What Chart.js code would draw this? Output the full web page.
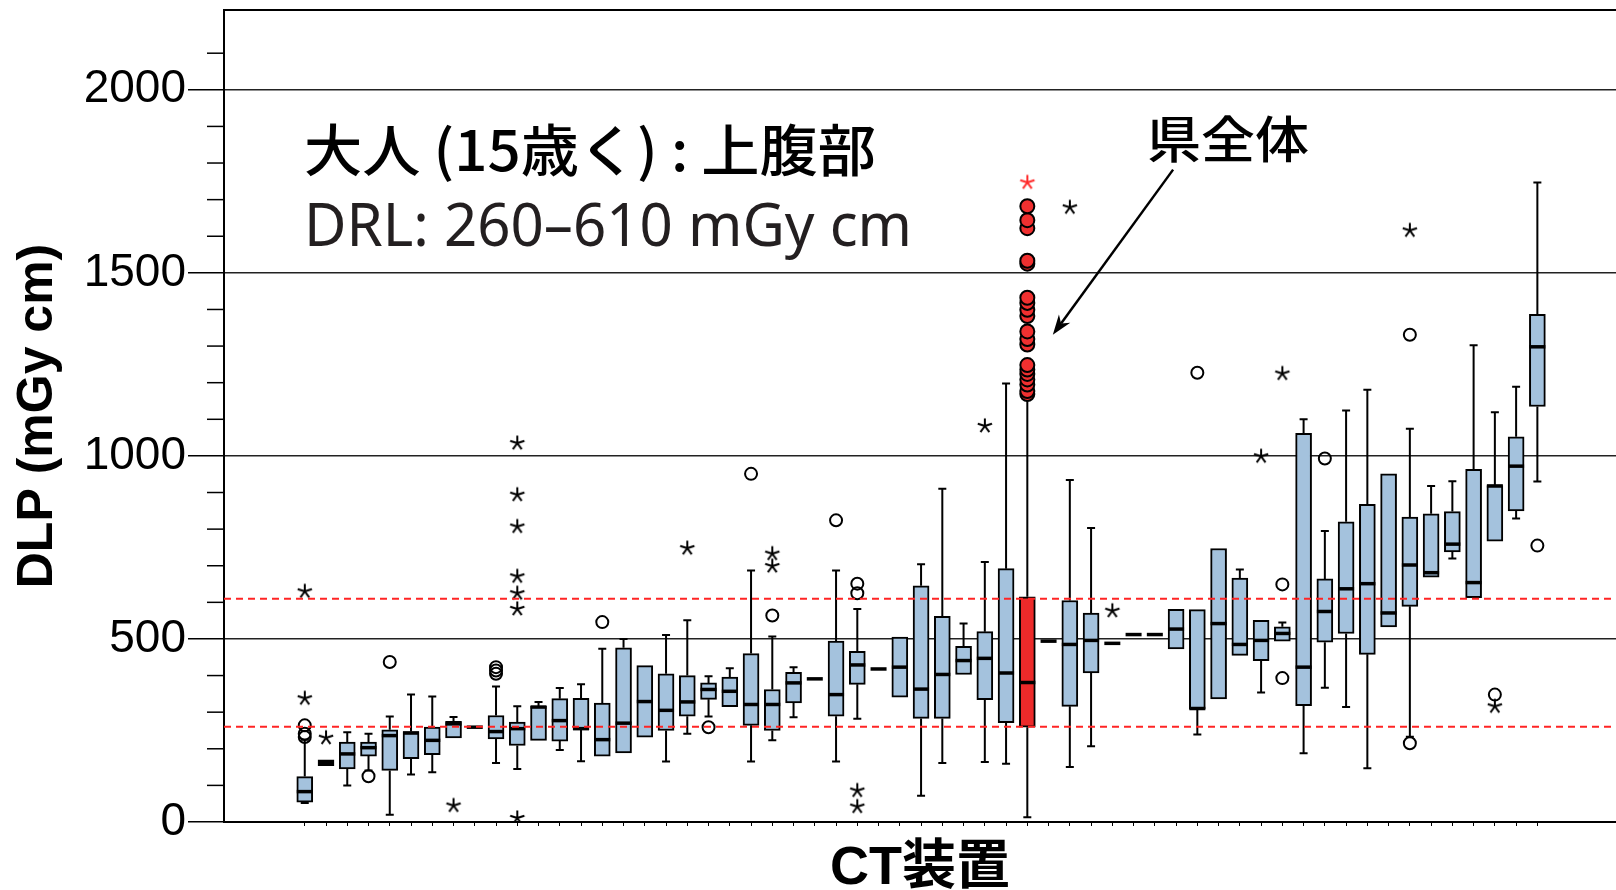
<!DOCTYPE html>
<html>
<head>
<meta charset="utf-8">
<script src="https://cdn.jsdelivr.net/npm/chart.js@4.4.0/dist/chart.umd.min.js"></script>
<style>
  html, body { margin: 0; padding: 0; background: #fff; overflow: hidden; }
  #wrap { width: 1616px; height: 890px; }
  canvas { display: block; }
</style>
</head>
<body>
<div id="wrap"><canvas id="chart" width="1616" height="890"></canvas></div>
<script>
// one box per CT unit, ordered as in the figure
const whiskerLow  = [52,154,100,141,20,130,136,230,259,161, 145,223,197,166,180,189,232,165,241,288,
                     315,165,223,286,391,165,282,418,341,72, 161,403,164,159,13,494,150,207,488,512,
                     512,473,239,336,455,354,494,188,367,314, 147,533,233,669,720,613,767,829,930]
const q1          = [54,154,145,180,141,173,184,230,259,227, 209,223,221,252,180,189,232,250,289,335,
                     315,264,250,325,391,289,376,418,341,283, 283,403,334,271,259,494,316,407,488,512,
                     512,473,308,336,455,441,494,318,491,515, 458,533,589,669,738,613,767,850,1135]
const median      = [83,162,186,203,236,243,223,268,259,247, 255,314,277,255,225,270,329,305,328,362,
                     357,321,321,380,391,348,429,418,423,363, 403,441,447,407,381,494,485,496,488,512,
                     512,527,310,542,485,496,515,423,575,637, 651,571,702,681,759,654,918,972,1298]
const q3          = [124,170,218,218,252,247,259,275,259,291, 273,316,337,338,325,476,427,405,400,380,
                     396,460,362,409,391,494,466,418,505,645, 562,480,520,692,615,494,605,571,488,512,
                     512,581,580,747,666,551,533,1062,664,820, 868,951,833,842,848,963,919,1052,1387]
const whiskerHigh = [225,170,245,241,288,348,343,287,259,370, 316,328,366,376,473,500,427,511,551,398,
                     420,687,507,423,391,687,582,418,505,704, 910,542,710,1198,1163,494,934,803,488,512,
                     512,581,580,747,690,551,545,1100,795,1124, 1181,951,1074,918,931,1302,1119,1189,1747]

const devices = whiskerLow.map((v, i) => 'CT' + (i + 1))
const prefectureIndex = 34   // 県全体

// outliers as [unit index, DLP]
const outlierCircles = [[0,232],[0,241],[0,264],[3,125],[4,437],[9,405],[9,414],[9,423],[14,546],[19,259],
  [21,951],[22,564],[25,824],[26,625],[26,651],[42,1227],[46,393],[46,649],[48,993],[52,215],[52,1331],
  [56,348],[58,755]]
const outlierStars = [[0,338],[0,630],[1,230],[7,45],[10,11],[10,582],[10,625],[10,671],[10,807],[10,894],
  [10,1035],[18,748],[22,699],[22,733],[26,42],[26,86],[32,1082],[36,1679],[38,577],[45,999],[46,1225],
  [52,1616],[56,316]]
const prefCircles = [1169,1177,1195,1209,1224,1236,1248,1304,1319,1340,1382,1399,1418,1432,1525,1533,1622,1644,1682]
const prefStars = [1747]

const drl = [260, 610]
const arrowFrom = [40.86, 1782]
const arrowTo = [35.2, 1331]

const yTicks = [0, 500, 1000, 1500, 2000]

function makeStar(color) {
  const c = document.createElement('canvas')
  c.width = 18; c.height = 18
  const g = c.getContext('2d')
  g.strokeStyle = color
  g.lineWidth = 2
  for (let k = 0; k < 5; k++) {
    const a = -Math.PI / 2 + k * 2 * Math.PI / 5
    g.beginPath()
    g.moveTo(9, 9)
    g.lineTo(9 + 7.5 * Math.cos(a), 9 + 7.5 * Math.sin(a))
    g.stroke()
  }
  return c
}

const boxes = []
const boxColors = []
devices.forEach((d, i) => {
  if (q3[i] > q1[i]) {
    boxes.push({ x: i, y: [q1[i], q3[i]] })
    boxColors.push(i === prefectureIndex ? '#ec2a2a' : '#a4c2dd')
  }
})

const boxHalf = 8

// whiskers behind the boxes, medians on top of them
const boxPlotParts = {
  id: 'boxPlotParts',
  beforeDatasetsDraw(chart) {
    const { ctx, scales: { x, y } } = chart
    ctx.save()
    ctx.strokeStyle = '#000'
    ctx.lineWidth = 2
    devices.forEach((d, i) => {
      const px = x.getPixelForValue(i)
      if (whiskerHigh[i] > q3[i]) {
        ctx.beginPath()
        ctx.moveTo(px, y.getPixelForValue(q3[i]))
        ctx.lineTo(px, y.getPixelForValue(whiskerHigh[i]))
        ctx.moveTo(px - 4, y.getPixelForValue(whiskerHigh[i]))
        ctx.lineTo(px + 4, y.getPixelForValue(whiskerHigh[i]))
        ctx.stroke()
      }
      if (whiskerLow[i] < q1[i]) {
        ctx.beginPath()
        ctx.moveTo(px, y.getPixelForValue(q1[i]))
        ctx.lineTo(px, y.getPixelForValue(whiskerLow[i]))
        ctx.moveTo(px - 4, y.getPixelForValue(whiskerLow[i]))
        ctx.lineTo(px + 4, y.getPixelForValue(whiskerLow[i]))
        ctx.stroke()
      }
    })
    ctx.restore()
  },
  afterDatasetDraw(chart, args) {
    if (args.index !== 0) return
    const { ctx, scales: { x, y } } = chart
    ctx.save()
    ctx.strokeStyle = '#000'
    ctx.lineWidth = 3.5
    devices.forEach((d, i) => {
      const px = x.getPixelForValue(i)
      const py = y.getPixelForValue(median[i])
      ctx.beginPath()
      ctx.moveTo(px - boxHalf, py)
      ctx.lineTo(px + boxHalf, py)
      ctx.stroke()
    })
    ctx.restore()
  }
}

const extras = {
  id: 'extras',
  afterDatasetsDraw(chart) {
    const { ctx, chartArea: a, scales: { x, y } } = chart
    ctx.save()
    // DRL range
    ctx.strokeStyle = '#ff2424'
    ctx.lineWidth = 2
    ctx.setLineDash([7, 5])
    drl.forEach(v => {
      const py = y.getPixelForValue(v)
      ctx.beginPath()
      ctx.moveTo(a.left, py)
      ctx.lineTo(a.right, py)
      ctx.stroke()
    })
    ctx.setLineDash([])

    // frame top
    ctx.strokeStyle = '#000'
    ctx.lineWidth = 2
    ctx.beginPath()
    ctx.moveTo(a.left, a.top)
    ctx.lineTo(a.right, a.top)
    ctx.stroke()

    // minor ticks every 100
    ctx.lineWidth = 1.5
    y.ticks.forEach(t => {
      if (t.value % 500 === 0) return
      const py = y.getPixelForValue(t.value)
      ctx.beginPath()
      ctx.moveTo(a.left - 17, py)
      ctx.lineTo(a.left, py)
      ctx.stroke()
    })

    // arrow to the prefecture box
    const x1 = x.getPixelForValue(arrowFrom[0]), y1 = y.getPixelForValue(arrowFrom[1])
    const x2 = x.getPixelForValue(arrowTo[0]), y2 = y.getPixelForValue(arrowTo[1])
    const ang = Math.atan2(y2 - y1, x2 - x1)
    ctx.lineWidth = 2.5
    ctx.beginPath()
    ctx.moveTo(x1, y1)
    ctx.lineTo(x2 - 14 * Math.cos(ang), y2 - 14 * Math.sin(ang))
    ctx.stroke()
    ctx.fillStyle = '#000'
    ctx.beginPath()
    ctx.moveTo(x2, y2)
    ctx.lineTo(x2 - 20 * Math.cos(ang) + 7 * Math.sin(ang), y2 - 20 * Math.sin(ang) - 7 * Math.cos(ang))
    ctx.lineTo(x2 - 14 * Math.cos(ang), y2 - 14 * Math.sin(ang))
    ctx.lineTo(x2 - 20 * Math.cos(ang) - 7 * Math.sin(ang), y2 - 20 * Math.sin(ang) + 7 * Math.cos(ang))
    ctx.closePath()
    ctx.fill()

    // labels
    function fitText(text, font, left, midY, width, color) {
      ctx.font = font
      ctx.fillStyle = color
      ctx.textBaseline = 'middle'
      ctx.textAlign = 'left'
      const w = ctx.measureText(text).width
      ctx.save()
      ctx.translate(left, midY)
      ctx.scale(width / w, 1)
      ctx.fillText(text, 0, 0)
      ctx.restore()
    }
    fitText('大人 (15歳く) : 上腹部', '500 56px "Noto Sans CJK JP"', 304, 150, 572, '#000')
    fitText('DRL: 260–610 mGy cm', '60px "Noto Sans", "Noto Sans CJK JP"', 304, 229, 608, '#231f20')
    fitText('県全体', '500 50px "Noto Sans CJK JP"', 1147, 139, 162, '#000')
    ctx.restore()
  }
}

const ctx = document.getElementById('chart').getContext('2d')

new Chart(ctx, {
  type: 'bar',
  data: {
    datasets: [
      {
        data: boxes,
        backgroundColor: boxColors,
        borderColor: '#000',
        borderWidth: 2,
        borderSkipped: false,
        barThickness: 16,
        order: 3
      },
      {
        type: 'scatter',
        data: outlierCircles.map(p => ({ x: p[0], y: p[1] })),
        pointStyle: 'circle',
        pointRadius: 6,
        backgroundColor: 'rgba(0,0,0,0)',
        borderColor: '#000',
        borderWidth: 2,
        order: 2
      },
      {
        type: 'scatter',
        data: outlierStars.map(p => ({ x: p[0], y: p[1] })),
        pointStyle: makeStar('#000'),
        order: 2
      },
      {
        type: 'scatter',
        data: prefCircles.map(v => ({ x: prefectureIndex, y: v })),
        pointStyle: 'circle',
        pointRadius: 7,
        backgroundColor: '#f03030',
        borderColor: '#000',
        borderWidth: 2,
        order: 1
      },
      {
        type: 'scatter',
        data: prefStars.map(v => ({ x: prefectureIndex, y: v })),
        pointStyle: makeStar('#ff2a2a'),
        order: 1
      }
    ]
  },
  options: {
    responsive: false,
    animation: false,
    events: [],
    layout: { autoPadding: false, padding: { top: 10, right: 0, bottom: 0, left: 0 } },
    plugins: { legend: { display: false }, tooltip: { enabled: false } },
    scales: {
      x: {
        type: 'linear',
        offset: false,
        min: -3.8,
        max: 61.7,
        afterBuildTicks(scale) {
          scale.ticks = scale.ticks.filter(t => Number.isInteger(t.value) && t.value >= 0 && t.value < devices.length)
        },
        afterFit(scale) {
          scale.height = 68
          scale.paddingLeft = 0
          scale.paddingRight = 0
        },
        ticks: { display: false, stepSize: 1 },
        grid: { drawOnChartArea: false, tickLength: 4, color: '#000', lineWidth: 1, offset: false },
        border: { color: '#000', width: 2 },
        title: {
          display: true,
          text: 'CT装置',
          color: '#000',
          font: { family: '"Liberation Sans", "Noto Sans CJK JP", sans-serif', size: 54, weight: 'bold', lineHeight: 1 },
          padding: { top: 0, bottom: -6 }
        }
      },
      y: {
        min: 0,
        max: 2218,
        afterBuildTicks(scale) {
          scale.ticks = scale.ticks.filter(t => t.value % 100 === 0)
        },
        afterFit(scale) {
          scale.width = 224
          scale.paddingTop = 0
          scale.paddingBottom = 0
        },
        ticks: {
          stepSize: 100,
          autoSkip: false,
          padding: 2,
          color: '#000',
          font: { family: '"Liberation Sans", Arial, sans-serif', size: 46 },
          callback: v => yTicks.includes(v) ? String(v) : ''
        },
        grid: {
          tickLength: 36,
          lineWidth: 1.5,
          color: c => (c.tick && c.tick.value > 0 && c.tick.value % 500 === 0) ? '#222' : 'rgba(0,0,0,0)',
          tickColor: c => (c.tick && c.tick.value % 500 === 0) ? '#000' : 'rgba(0,0,0,0)'
        },
        border: { color: '#000', width: 2 },
        title: {
          display: true,
          text: 'DLP (mGy cm)',
          color: '#000',
          font: { family: '"Liberation Sans", Arial, sans-serif', size: 50, weight: 'bold' },
          padding: { top: 8, bottom: 0 }
        }
      }
    }
  },
  plugins: [boxPlotParts, extras]
})
</script>
</body>
</html>
